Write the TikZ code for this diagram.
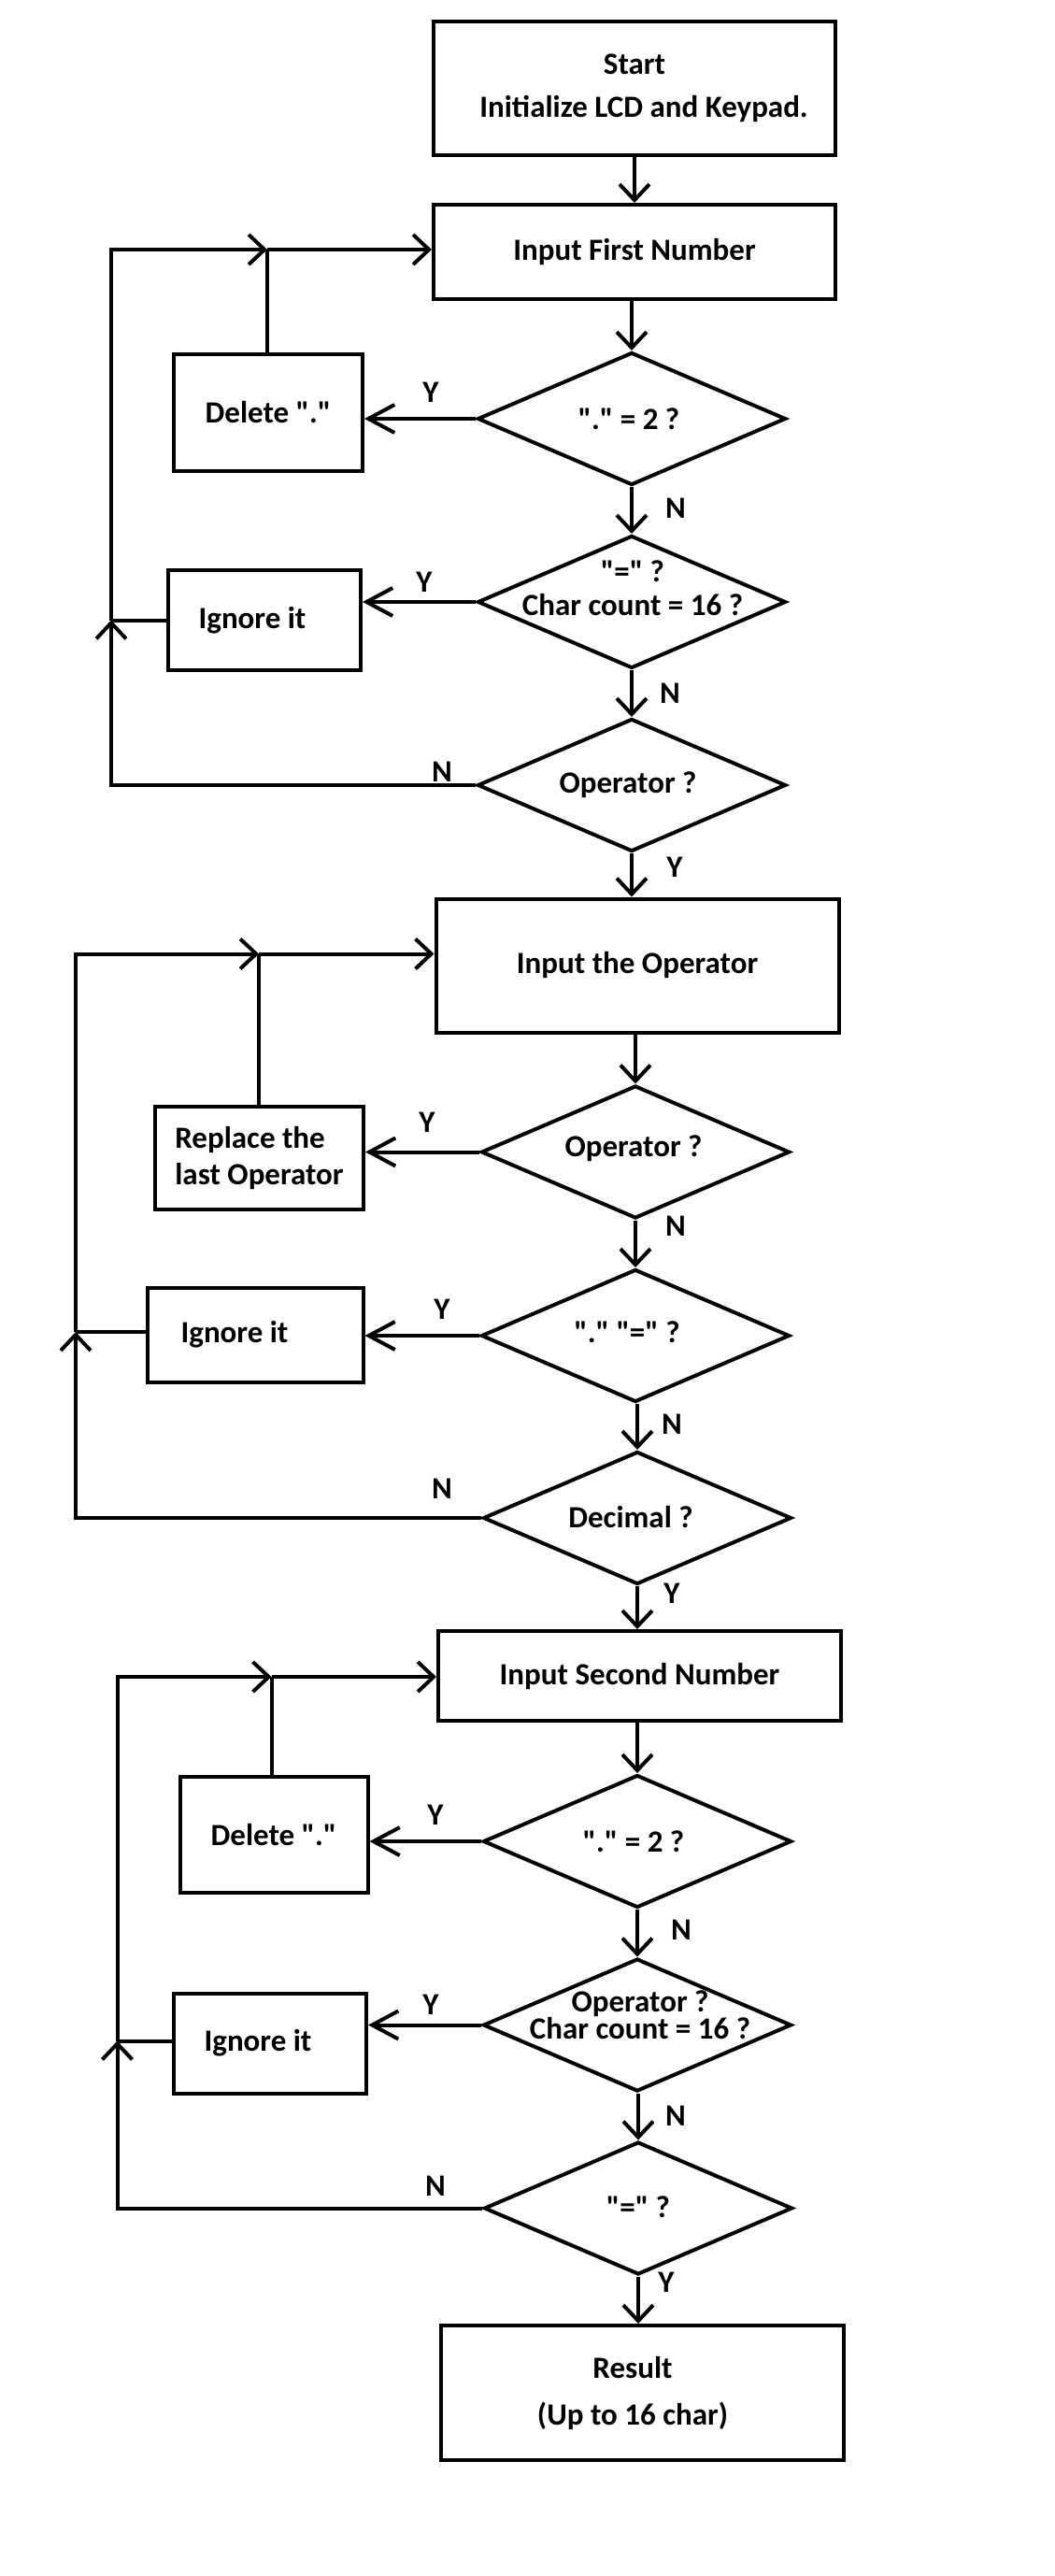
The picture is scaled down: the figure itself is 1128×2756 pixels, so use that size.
\documentclass[tikz,border=0pt]{standalone}
\usepackage{fontspec}
\setmainfont{Carlito}[Ligatures=TeXOff]
\usetikzlibrary{shapes.geometric,arrows.meta}
\tikzset{
  procbox/.style={draw, rectangle, line width=4pt, inner sep=0pt,
    font=\bfseries\fontsize{33pt}{46pt}\selectfont, align=center},
  decision/.style={draw, diamond, line width=4pt, inner sep=0pt,
    minimum width=330pt, minimum height=142pt, line join=miter},
  dtext/.style={font=\bfseries\fontsize{33pt}{#1}\selectfont, align=center, inner sep=0pt},
  dtext/.default={36pt},
  yn/.style={font=\bfseries\fontsize{33pt}{40pt}\selectfont, inner sep=0pt},
  conn/.style={line width=4pt, line join=miter},
  flow/.style={conn, -{Straight Barb[length=17pt,width=32pt,line width=4pt]}},
  flowY/.style={conn, -{Straight Barb[length=28pt,width=30pt,line width=4pt]}}
}
\begin{document}
\begin{tikzpicture}[x=1pt,y=-1pt]
\useasboundingbox (0,0) rectangle (1128,2756);
\fill[white] (0,0) rectangle (1128,2756);

% ---------- group 1 ----------
\node[procbox, minimum width=430pt, minimum height=143pt] (start) at (679,94.5)
  {Start\\\hspace*{20pt}Initialize LCD and Keypad.};
\node[procbox, minimum width=430pt, minimum height=101pt] (in1) at (679,269.5) {Input First Number};
\node[decision] (d1) at (676,448) {};
\node[dtext] (d1t) at (673,448) {"." = 2 ?};
\node[decision] (d2) at (676,644) {};
\node[dtext=36pt] (d2t) at (677,629) {"=" ?\\Char count = 16 ?};
\node[decision] (d3) at (676,840) {};
\node[dtext] (d3t) at (672,840) {Operator ?};
\node[procbox, minimum width=202pt, minimum height=125pt] (del1) at (287,441.5) {Delete "."};
\node[procbox, minimum width=206pt, minimum height=107pt] (ign1) at (283,663.5) {\hspace*{-26pt}Ignore it};

\draw[flow] (start.south -| in1.north) -- (in1.north);
\draw[flow] (d1.north |- in1.south) -- (d1.north);
\draw[flow] (d2.north |- d1.south) -- (d2.north);
\draw[flow] (d3.north |- d2.south) -- (d3.north);
\draw[flowY] (d1.west) -- (del1.east |- d1.west);
\draw[flowY] (d2.west) -- (ign1.east |- d2.west);
\coordinate (j1a) at (119,663.5);
\coordinate (j1b) at (286,267);
\draw[flow] (d3.west) -| (j1a);
\draw[conn] (ign1.west) -- (j1a);
\draw[flow] (j1a) |- (j1b);
\draw[conn] (del1.north -| j1b) -- (j1b);
\draw[flow] (j1b) -- (j1b -| in1.west);

\node[yn] (y1) at (461,420) {Y};
\node[yn] (n1) at (723,544) {N};
\node[yn] (y2) at (454,623) {Y};
\node[yn] (n2) at (717,742) {N};
\node[yn] (n3) at (473,826) {N};
\node[yn] (y3) at (722,928) {Y};

% ---------- group 2 ----------
\node[procbox, minimum width=431pt, minimum height=143pt] (in2) at (682,1033) {Input the Operator};
\node[decision] (d4) at (680,1232.5) {};
\node[dtext] (d4t) at (678,1229) {Operator ?};
\node[decision] (d5) at (680,1429) {};
\node[dtext] (d5t) at (671,1425) {"." "=" ?};
\node[decision] (d6) at (682,1624) {};
\node[dtext] (d6t) at (675,1623.5) {Decimal ?};
\node[procbox, minimum width=223pt, minimum height=110pt, align=left,
  font=\bfseries\fontsize{33pt}{39.5pt}\selectfont] (rep) at (277.5,1239)
  {Replace the\\last Operator};
\node[procbox, minimum width=231pt, minimum height=101pt] (ign2) at (273,1428) {\hspace*{-44pt}Ignore it};

\draw[flow] (d3.south) -- (d3.south |- in2.north);
\draw[flow] (d4.north |- in2.south) -- (d4.north);
\draw[flow] (d5.north |- d4.south) -- (d5.north);
\draw[flow] (d6.north |- d5.south) -- (d6.north);
\draw[flowY] (d4.west) -- (rep.east |- d4.west);
\draw[flowY] (d5.west) -- (ign2.east |- d5.west);
\coordinate (j2a) at (81,1425);
\coordinate (j2b) at (277,1020.5);
\draw[flow] (d6.west) -| (j2a);
\draw[conn] (ign2.west |- j2a) -- (j2a);
\draw[flow] (j2a) |- (j2b);
\draw[conn] (rep.north -| j2b) -- (j2b);
\draw[flow] (j2b) -- (j2b -| in2.west);

\node[yn] (y4) at (457,1201) {Y};
\node[yn] (n4) at (723,1312) {N};
\node[yn] (y5) at (473,1401) {Y};
\node[yn] (n5) at (719,1524) {N};
\node[yn] (n6) at (473,1593) {N};
\node[yn] (y6) at (719,1705) {Y};

% ---------- group 3 ----------
\node[procbox, minimum width=431pt, minimum height=96pt] (in3) at (684.5,1793) {Input Second Number};
\node[decision] (d7) at (682,1970) {};
\node[dtext] (d7t) at (678,1970) {"." = 2 ?};
\node[decision] (d8) at (682,2166.5) {};
\node[dtext=26pt] (d8t) at (685,2156) {Operator ?\\Char count = 16 ?};
\node[decision] (d9) at (683,2362.5) {};
\node[dtext] (d9t) at (683,2361) {"=" ?};
\node[procbox, minimum width=201pt, minimum height=124pt] (del2) at (293,1963) {Delete "."};
\node[procbox, minimum width=206pt, minimum height=107pt] (ign3) at (289,2186) {\hspace*{-26pt}Ignore it};
\node[procbox, minimum width=431pt, minimum height=144pt] (res) at (687,2560)
  {\hspace*{-20pt}Result\\[4pt]\hspace*{-20pt}(Up to 16 char)};

\draw[flow] (d6.south) -- (d6.south |- in3.north);
\draw[flow] (d7.north |- in3.south) -- (d7.north);
\draw[flow] (d8.north |- d7.south) -- (d8.north);
\draw[flow] (d9.north |- d8.south) -- (d9.north);
\draw[flow] (d9.south) -- (d9.south |- res.north);
\draw[flowY] (d7.west) -- (del2.east |- d7.west);
\draw[flowY] (d8.west) -- (ign3.east |- d8.west);
\coordinate (j3a) at (125.5,2183.5);
\coordinate (j3b) at (290.5,1794);
\draw[flow] (d9.west) -| (j3a);
\draw[conn] (ign3.west |- j3a) -- (j3a);
\draw[flow] (j3a) |- (j3b);
\draw[conn] (del2.north -| j3b) -- (j3b);
\draw[flow] (j3b) -- (j3b -| in3.west);

\node[yn] (y7) at (466,1942) {Y};
\node[yn] (n7) at (729,2065) {N};
\node[yn] (y8) at (461,2145) {Y};
\node[yn] (n8) at (723,2264) {N};
\node[yn] (n9) at (466,2339) {N};
\node[yn] (y9) at (713,2442) {Y};
\end{tikzpicture}
\end{document}
